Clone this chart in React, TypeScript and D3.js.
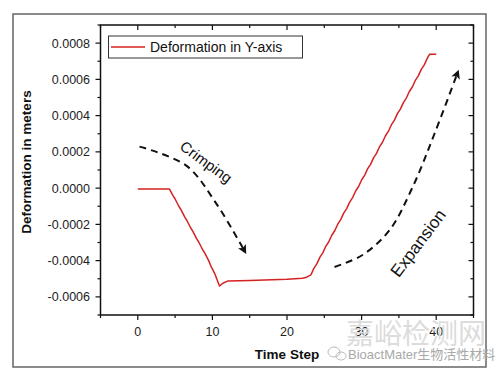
import React from "react";
import * as d3 from "d3";

const timeSteps = [0, 4.25, 4.7, 5.0, 5.5, 5.8, 6.3, 6.6, 7.1, 7.4, 7.9, 8.2, 8.7, 9.0, 9.5, 9.8, 10.3, 10.95, 11.4, 12.1, 15, 18, 20, 22.1, 22.6, 23.2, 23.6, 24.0, 24.4, 24.8, 25.2, 25.6, 26.0, 26.4, 26.8, 27.2, 27.6, 28.0, 28.4, 28.8, 29.2, 29.6, 30.0, 30.4, 30.8, 31.2, 31.6, 32.0, 32.4, 32.8, 33.2, 33.6, 34.0, 34.4, 34.8, 35.2, 35.6, 36.0, 36.4, 36.8, 37.2, 37.6, 38.0, 38.4, 38.8, 39.1, 40.0];
const deformation = [-0.000005, -0.000005, -0.00004, -0.00006, -0.0001, -0.00012, -0.00016, -0.00018, -0.00022, -0.00024, -0.00028, -0.0003, -0.00034, -0.00036, -0.0004, -0.00043, -0.00047, -0.00054, -0.000525, -0.000512, -0.000509, -0.000506, -0.000503, -0.000497, -0.000492, -0.000479, -0.000443, -0.000418, -0.000382, -0.000357, -0.000321, -0.000296, -0.00026, -0.000235, -0.000199, -0.000174, -0.000138, -0.000113, -0.000077, -0.000052, -0.000016, 0.000009, 0.000045, 0.00007, 0.000106, 0.000131, 0.000167, 0.000192, 0.000228, 0.000253, 0.000289, 0.000314, 0.00035, 0.000375, 0.000411, 0.000436, 0.000472, 0.000497, 0.000533, 0.000558, 0.000594, 0.000619, 0.000655, 0.00068, 0.000716, 0.000738, 0.000738];

const xTicks = [0, 10, 20, 30, 40];
const xMinorTicks = [-5, 5, 15, 25, 35, 45];
const yTicks = [-0.0006, -0.0004, -0.0002, 0, 0.0002, 0.0004, 0.0006, 0.0008];
const yMinorTicks = [-0.0007, -0.0005, -0.0003, -0.0001, 0.0001, 0.0003, 0.0005, 0.0007, 0.0009];

const crimpX = [0.23, 6.5, 10.5, 14.3];
const crimpY = [0.000229, 0.000124, -0.000084, -0.000346];
const expandX = [26.37, 30.12, 33.74, 36.82, 39.77, 42.85];
const expandY = [-0.000435, -0.000369, -0.000232, 0.000004, 0.0003, 0.000635];

const seriesName = "Deformation in Y-axis";
const xTitle = "Time Step";
const yTitle = "Deformation in meters";

export default function App() {
  const W = 500, H = 377;
  const L = 100.5, R = 473.5, T = 25, B = 315;
  const x = d3.scaleLinear().domain([-5, 45]).range([L, R]);
  const y = d3.scaleLinear().domain([-0.0007, 0.0009]).range([B, T]);
  const pts = timeSteps.map((t, i) => [t, deformation[i]] as [number, number]);
  const line = d3.line<[number, number]>().x(d => x(d[0])).y(d => y(d[1]));
  const curve = d3.line<[number, number]>().x(d => x(d[0])).y(d => y(d[1])).curve(d3.curveCatmullRom.alpha(0.5));
  const crimp = crimpX.map((v, i) => [v, crimpY[i]] as [number, number]);
  const expand = expandX.map((v, i) => [v, expandY[i]] as [number, number]);
  const fmt = (v: number) => (Math.abs(v) < 1e-12 ? "0.0000" : v.toFixed(4));
  const font = "'Liberation Sans', Arial, sans-serif";
  return (
    <svg width={W} height={H} style={{ position: "absolute", left: 0, top: 0, background: "#fff" }} fontFamily={font}>
      <defs>
        <marker id="ah" viewBox="0 0 10 10" refX="6" refY="5" markerWidth="4.5" markerHeight="4.5" orient="auto" markerUnits="strokeWidth">
          <path d="M0,0 L10,5 L0,10 L2.5,5 Z" fill="#111" />
        </marker>
      </defs>
      <rect x={0} y={0} width={W} height={H} fill="#fff" />
      <rect x={13} y={14} width={473} height={353} fill="none" stroke="#666" strokeWidth={1.5} />
      <rect x={L} y={T} width={R - L} height={B - T} fill="none" stroke="#111" strokeWidth={1.5} />
      {xTicks.map(t => (
        <g key={"xb" + t}>
          <line x1={x(t)} x2={x(t)} y1={B} y2={B + 5} stroke="#111" strokeWidth={1.2} />
          <line x1={x(t)} x2={x(t)} y1={T} y2={T + 5} stroke="#111" strokeWidth={1.2} />
          <text x={x(t)} y={336} textAnchor="middle" fontSize={12.5} fill="#222">{t}</text>
        </g>
      ))}
      {xMinorTicks.map(t => (
        <g key={"xm" + t}>
          <line x1={x(t)} x2={x(t)} y1={B} y2={B + 3} stroke="#111" strokeWidth={1.2} />
          <line x1={x(t)} x2={x(t)} y1={T} y2={T + 3} stroke="#111" strokeWidth={1.2} />
        </g>
      ))}
      {yTicks.map(t => (
        <g key={"yl" + t}>
          <line x1={L - 5} x2={L} y1={y(t)} y2={y(t)} stroke="#111" strokeWidth={1.2} />
          <line x1={R - 5} x2={R} y1={y(t)} y2={y(t)} stroke="#111" strokeWidth={1.2} />
          <text x={90} y={y(t)} dy="0.35em" textAnchor="end" fontSize={12.5} fill="#222">{fmt(t)}</text>
        </g>
      ))}
      {yMinorTicks.map(t => (
        <g key={"ym" + t}>
          <line x1={L - 3} x2={L} y1={y(t)} y2={y(t)} stroke="#111" strokeWidth={1.2} />
          <line x1={R - 3} x2={R} y1={y(t)} y2={y(t)} stroke="#111" strokeWidth={1.2} />
        </g>
      ))}
      <text x={346} y={344} fontSize={28} fill="#dcdcdc" fontFamily="'Noto Sans CJK SC', sans-serif">嘉峪检测网</text>
      <g stroke="#bbb" fill="none" strokeWidth={1}>
        <ellipse cx={334} cy={352} rx={6} ry={5} />
        <ellipse cx={341} cy={356} rx={5} ry={4} />
      </g>
      <text x={348} y={359} fontSize={13} fill="#a8a8a8" fontFamily="'Liberation Sans', 'Noto Sans CJK SC', sans-serif">BioactMater生物活性材料</text>
      <path d={line(pts) || ""} fill="none" stroke="#d42222" strokeWidth={1.5} strokeLinejoin="round" />
      <path d={curve(crimp) || ""} fill="none" stroke="#111" strokeWidth={2} strokeDasharray="7,5" markerEnd="url(#ah)" />
      <path d={curve(expand) || ""} fill="none" stroke="#111" strokeWidth={2} strokeDasharray="7,5" markerEnd="url(#ah)" />
      <text transform={`translate(${206},${162}) rotate(36)`} textAnchor="middle" dy="0.35em" fontSize={15} fill="#111">Crimping</text>
      <text transform={`translate(${418},${243}) rotate(-53)`} textAnchor="middle" dy="0.35em" fontSize={17} fill="#111">Expansion</text>
      <rect x={108.5} y={36} width={194} height={22} fill="#fff" stroke="#333" strokeWidth={1} />
      <line x1={111} x2={145} y1={47} y2={47} stroke="#d42222" strokeWidth={1.5} />
      <text x={150} y={52} fontSize={14} fill="#111">{seriesName}</text>
      <text x={287} y={359} textAnchor="middle" fontSize={13.5} fontWeight="bold" fill="#111">{xTitle}</text>
      <text transform={`translate(${31},${162}) rotate(-90)`} textAnchor="middle" fontSize={13.5} fontWeight="bold" fill="#111">{yTitle}</text>
    </svg>
  );
}
